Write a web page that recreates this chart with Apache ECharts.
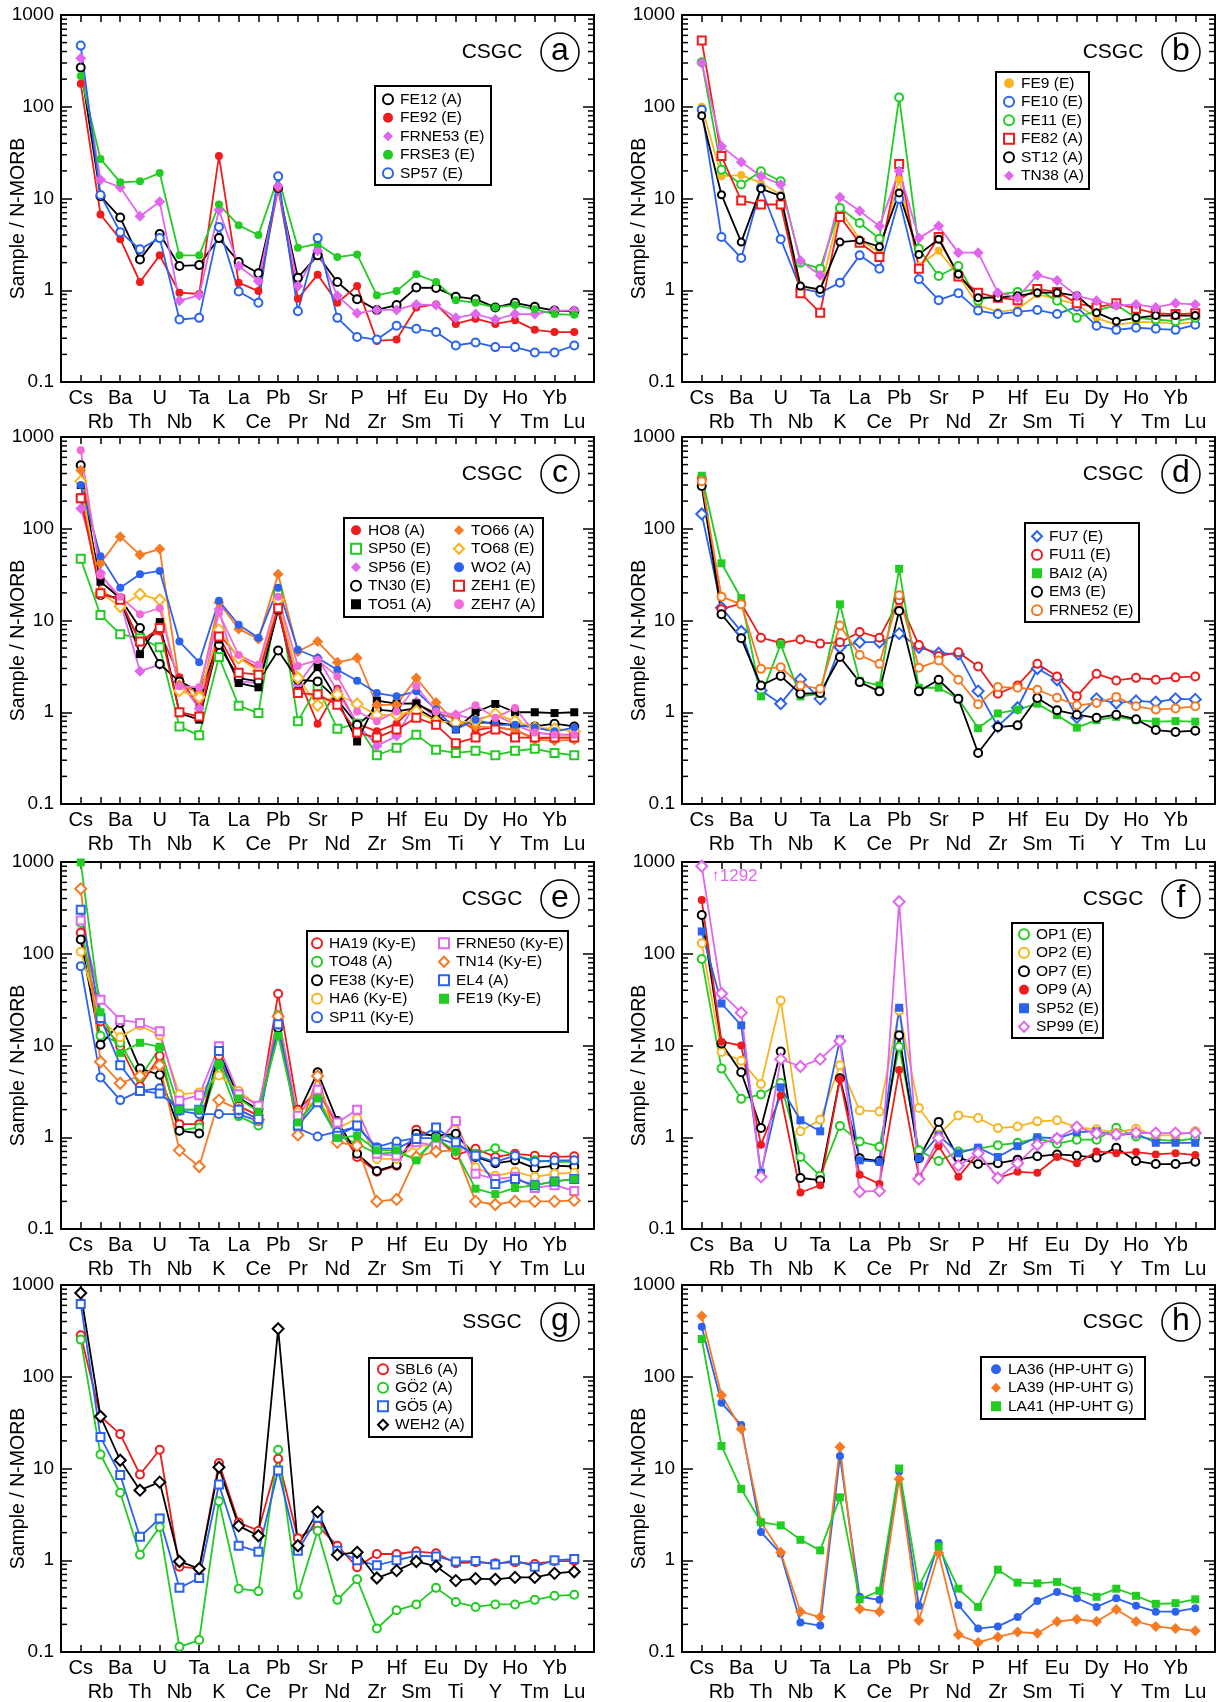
<!DOCTYPE html>
<html>
<head>
<meta charset="utf-8">
<script src="https://cdn.jsdelivr.net/npm/echarts@6/dist/echarts.min.js"></script>
<style>
body { margin: 0; background: #fff; }
#chart { width: 1223px; height: 1702px; }
</style>
</head>
<body>
<div id="chart"></div>
<script>
// element order on the x axis
const elements = ['Cs','Rb','Ba','Th','U','Nb','Ta','K','La','Ce','Pb','Pr','Sr','Nd','P','Zr','Hf','Sm','Eu','Ti','Dy','Y','Ho','Tm','Yb','Lu'];
const minorTicks = [0.2,0.3,0.4,0.5,0.6,0.7,0.8,0.9,2,3,4,5,6,7,8,9,20,30,40,50,60,70,80,90,200,300,400,500,600,700,800,900];

// (a)
const FE12   = [268,10.6,6.2,2.17,4.1,1.84,1.88,3.7,2.03,1.53,13,1.37,2.4,1.23,0.8,0.61,0.69,1.07,1.06,0.85,0.8,0.65,0.73,0.66,0.6,0.59];
const FE92   = [178,6.7,3.6,1.23,2.4,0.94,0.91,29,1.21,0.98,13,0.81,1.48,0.73,1.11,0.28,0.29,0.65,0.7,0.43,0.49,0.43,0.47,0.37,0.35,0.35];
const FRNE53 = [338,16,13.3,6.4,9.2,0.77,0.88,7.5,1.84,1.26,13.6,1.11,2.7,0.87,0.56,0.61,0.61,0.7,0.69,0.5,0.55,0.48,0.55,0.55,0.6,0.6];
const FRSE3  = [217,27,15,15.4,19,2.4,2.4,8.6,5.1,4.0,17,2.9,3.2,2.3,2.46,0.88,0.98,1.49,1.23,0.78,0.73,0.65,0.69,0.62,0.55,0.54];
const SP57   = [464,10.9,4.3,2.8,3.7,0.48,0.5,4.9,0.97,0.73,17.5,0.59,3.7,0.5,0.31,0.29,0.41,0.38,0.35,0.25,0.27,0.24,0.24,0.21,0.21,0.25];
// (b)
const FE9  = [100,17.5,18,14.8,11,1.13,0.98,7.5,3.6,2.6,16,1.84,2.7,1.43,0.69,0.58,0.62,0.9,0.8,0.7,0.5,0.42,0.45,0.45,0.43,0.45];
const FE10 = [93,3.8,2.25,13,3.6,1.05,0.94,1.21,2.4,1.72,9.9,1.32,0.78,0.93,0.6,0.55,0.58,0.61,0.55,0.66,0.41,0.37,0.39,0.38,0.37,0.42];
const FE11 = [306,20.6,14.2,19.8,15.4,2.0,1.72,7.9,5.4,3.65,126,2.84,1.43,1.84,0.77,0.9,0.96,1.03,0.77,0.5,0.6,0.69,0.5,0.48,0.46,0.5];
const FE82 = [526,29,9.5,8.6,8.6,0.93,0.57,6.3,3.3,2.3,23.8,1.72,3.8,1.41,0.94,0.83,0.78,1.03,0.96,0.72,0.65,0.72,0.63,0.56,0.55,0.56];
const ST12 = [80,11,3.35,12.8,10.6,1.11,1.02,3.35,3.5,2.98,11.5,2.46,3.6,1.49,0.83,0.83,0.87,0.94,0.94,0.87,0.57,0.46,0.5,0.53,0.53,0.53];
const TN38 = [300,37,25,17.5,14.2,2.1,1.46,10.3,7.3,5.0,20,3.7,5.0,2.57,2.57,0.94,0.83,1.46,1.28,0.87,0.77,0.68,0.7,0.65,0.72,0.7];
// (c)
const HO8  = [223,20.7,16.4,5.8,7.6,2.4,1.14,7.1,4.0,3.0,13.8,2.42,0.75,1.8,0.75,0.62,0.75,1.23,0.98,0.85,0.64,0.69,0.64,0.52,0.53,0.53];
const SP50 = [47,11.5,7.1,6.4,5.1,0.7,0.56,4.0,1.18,0.98,19.3,0.8,1.92,0.66,0.75,0.34,0.41,0.57,0.39,0.36,0.38,0.34,0.38,0.4,0.36,0.34];
const SP56 = [166,33,16,2.8,3.3,2.17,1.1,13.3,2.17,2.08,14.8,2.0,3.9,1.7,0.75,0.43,0.55,1.3,0.87,0.94,0.83,0.94,0.73,0.6,0.57,0.57];
const TN30 = [493,19,17.5,8.3,3.35,2.17,1.69,5.4,2.36,2.17,4.7,2.26,2.17,1.37,0.73,1.07,1.02,1.11,0.83,0.77,0.77,0.77,0.72,0.7,0.75,0.7];
const TO51 = [300,26.5,17.5,4.3,9.6,0.98,0.83,6.2,2.08,1.87,13,1.69,3.1,1.37,0.48,1.34,1.24,1.25,0.94,0.65,1.0,1.23,1.0,1.0,0.98,1.0];
const TO66 = [434,42,82,52,60,2.0,1.62,15.7,8.1,6.3,32,4.6,5.9,3.5,3.9,1.2,1.21,2.36,1.28,0.77,0.7,0.68,0.65,0.5,0.49,0.5];
const TO68 = [330,20,14.2,19.3,16.8,1.72,1.46,7.9,3.9,2.83,16.8,2.36,1.19,1.56,1.23,0.93,0.94,1.03,0.8,0.77,0.8,0.96,0.8,0.68,0.66,0.62];
const WO2  = [300,50,22.8,32,34.7,5.9,3.5,16.4,9.0,6.5,22.8,4.8,3.9,2.9,2.2,1.62,1.49,1.69,1.07,0.65,0.83,0.73,0.73,0.68,0.62,0.68];
const ZEH1 = [215,19.8,16.8,5.9,8.3,1.0,0.9,6.7,2.7,2.57,13.6,1.62,1.56,1.21,0.6,0.53,0.65,0.87,0.73,0.46,0.53,0.65,0.53,0.53,0.53,0.53];
const ZEH7 = [716,31,18.2,11.7,13.6,1.92,1.87,12,4.2,3.3,18.2,3.2,3.7,2.46,1.02,0.8,1.02,1.92,1.02,0.94,1.19,0.87,1.11,0.6,0.57,0.57];
// (d)
const FU7    = [145,13.8,7.6,1.73,1.24,2.28,1.4,5.1,5.8,5.8,7.2,5.1,4.4,4.3,1.7,0.7,1.12,3.0,2.26,0.88,1.4,1.26,1.33,1.29,1.4,1.38];
const FU11   = [354,13.3,15.3,6.5,5.7,6.2,5.6,5.8,7.5,6.5,16.6,5.4,4.1,4.5,3.15,1.59,1.96,3.37,2.45,1.49,2.62,2.22,2.37,2.26,2.4,2.45];
const BAI2   = [378,42,17.5,1.49,5.5,1.49,1.59,15,2.2,1.96,36.6,1.85,1.85,1.4,0.67,0.97,1.07,1.24,0.93,0.68,0.82,0.89,0.82,0.79,0.8,0.79];
const EM3    = [292,11.7,6.4,1.96,2.48,1.59,1.62,4.0,2.13,1.69,12.7,1.69,2.26,1.4,0.36,0.69,0.72,1.43,1.05,0.94,0.87,0.94,0.84,0.64,0.61,0.63];
const FRNE52 = [330,18.2,15,2.97,3.1,1.96,1.8,8.8,4.2,3.37,18.8,3.05,3.66,2.26,1.22,1.88,1.85,1.76,1.44,1.19,1.26,1.47,1.16,1.07,1.1,1.16];
// (e)
const HA19   = [169,18.3,9.8,3.6,7.7,1.39,1.39,7.7,2.2,1.72,36.6,2.0,3.2,1.34,0.61,0.42,0.49,1.21,1.0,0.64,0.75,0.61,0.66,0.63,0.61,0.62];
const TO48   = [217,12.8,10.7,4.47,9.4,1.18,1.28,6.2,1.7,1.34,21.7,1.5,2.65,1.04,0.85,0.66,0.69,0.58,1.0,1.04,0.66,0.76,0.63,0.56,0.54,0.54];
const FE38   = [143,10.2,17.6,5.6,4.8,1.18,1.1,8.7,2.7,2.0,15.5,1.79,5.1,1.5,0.66,0.43,0.5,1.09,1.04,1.09,0.61,0.52,0.56,0.46,0.49,0.48];
const HA6    = [105,19.4,12.3,16.5,12.9,2.94,3.07,4.7,3.2,2.2,18,1.86,2.6,1.25,1.6,0.58,0.58,0.81,0.81,1.45,0.47,0.38,0.42,0.37,0.4,0.41];
const SP11   = [73,4.47,2.54,3.2,3.42,1.94,1.79,1.79,1.79,1.5,16.9,1.25,1.02,1.15,1.3,0.78,0.9,0.98,0.98,0.85,0.63,0.54,0.63,0.54,0.56,0.56];
const FRNE50 = [230,31.5,19,17.6,14.3,2.5,2.87,9.8,2.95,2.2,20,1.72,3.3,1.45,2.0,0.66,0.63,0.88,0.81,1.5,0.4,0.35,0.37,0.28,0.3,0.26];
const TN14   = [510,6.65,3.88,4.66,6.1,0.72,0.48,2.54,2.0,1.55,20.8,1.06,4.66,0.88,0.81,0.2,0.21,0.61,0.7,0.72,0.2,0.185,0.2,0.2,0.2,0.205];
const EL4    = [302,20,6.1,3.2,3.0,2.0,2.0,8.7,2.0,1.58,17,1.34,2.4,1.04,1.34,0.75,0.75,0.96,1.28,0.88,0.63,0.31,0.35,0.3,0.33,0.35];
const FE19   = [990,23,8.3,10.7,9.7,2.0,2.0,6.2,2.65,1.9,12.8,1.45,2.65,0.98,1.04,0.72,0.72,0.56,0.98,0.7,0.275,0.24,0.28,0.3,0.33,0.35];
// (f)
const OP1  = [87.5,5.6,2.62,2.92,3.9,0.61,0.38,1.33,0.9,0.79,9.7,0.72,0.55,0.7,0.75,0.82,0.87,0.97,0.85,0.94,0.94,1.27,1.02,0.94,0.91,0.97];
const OP2  = [130,8.5,6.8,3.8,31,1.16,1.55,6.1,1.96,1.91,24,2.08,1.07,1.73,1.62,1.26,1.31,1.49,1.53,1.29,1.22,1.12,1.24,1.05,1.05,1.16];
const OP7  = [264,10.5,5.1,1.26,8.6,0.36,0.34,4.4,0.59,0.55,12.9,0.59,1.47,0.6,0.51,0.52,0.57,0.62,0.65,0.63,0.6,0.77,0.55,0.51,0.51,0.54];
const OP9  = [385,11,10,0.83,2.85,0.25,0.3,4.3,0.39,0.31,5.4,0.37,0.8,0.37,0.67,0.36,0.42,0.41,0.61,0.52,0.7,0.67,0.69,0.65,0.67,0.64];
const SP52 = [175,28.7,16.6,0.41,3.5,1.53,1.16,11.7,0.56,0.54,25.8,0.59,1.05,0.67,0.77,0.61,0.8,1.0,0.97,1.14,1.16,1.05,1.1,0.87,0.87,0.87];
const SP99 = [900,36.9,22.8,0.37,7.1,5.9,7.1,11.2,0.255,0.26,369,0.35,0.98,0.49,0.67,0.36,0.52,0.83,0.97,1.29,1.1,1.07,1.12,1.11,1.11,1.11];
// (g)
const SBL6 = [283,36.9,23.7,8.6,16,0.85,0.81,11.5,2.58,2.1,12.8,1.74,2.37,1.44,0.84,1.17,1.17,1.25,1.19,0.93,0.95,0.93,0.95,0.91,0.98,0.98];
const GO2  = [254,14.2,5.45,1.15,2.3,0.114,0.135,4.4,0.49,0.46,16,0.42,2.1,0.37,0.62,0.18,0.285,0.33,0.5,0.35,0.31,0.33,0.33,0.37,0.41,0.42];
const GO5  = [622,22,8.5,1.8,2.85,0.5,0.64,6.7,1.44,1.24,9.5,1.27,2.9,1.27,1.0,0.88,1.0,1.12,1.1,0.97,0.98,0.9,1.0,0.85,1.0,1.03];
const WEH2 = [819,36.9,12.3,5.8,7.1,0.97,0.81,10.3,2.37,1.85,334,1.44,3.37,1.15,1.22,0.64,0.77,0.97,0.86,0.6,0.63,0.62,0.65,0.65,0.72,0.75];
// (h)
const LA36 = [351,52,29.7,2.03,1.18,0.21,0.194,13.7,0.4,0.37,9.3,0.32,1.54,0.325,0.18,0.19,0.24,0.36,0.45,0.385,0.31,0.385,0.32,0.275,0.275,0.3];
const LA39 = [458,63,27,2.6,1.22,0.275,0.24,17.2,0.295,0.275,7.7,0.22,1.2,0.154,0.127,0.146,0.165,0.16,0.215,0.227,0.215,0.29,0.215,0.19,0.18,0.17];
const LA41 = [258,17.6,6.0,2.6,2.4,1.67,1.28,4.85,0.375,0.465,10,0.52,1.42,0.49,0.31,0.79,0.57,0.56,0.58,0.465,0.4,0.49,0.41,0.335,0.34,0.375];

const BLACK = '#000000', RED = '#ee1d1d', VIOLET = '#e066ee', PINK = '#f26bd6',
      GREEN = '#22cc22', BLUE = '#2b63ee', GOLD = '#f7b521', ORANGE = '#f57a23';

// [name, values, symbol, filled, colour]
const panels = [
  { tag: 'a', group: 'CSGC', samples: [
    ['FE12 (A)', FE12, 'circle', false, BLACK],
    ['FE92 (E)', FE92, 'circle', true, RED],
    ['FRNE53 (E)', FRNE53, 'diamond', true, VIOLET],
    ['FRSE3 (E)', FRSE3, 'circle', true, GREEN],
    ['SP57 (E)', SP57, 'circle', false, BLUE]] },
  { tag: 'b', group: 'CSGC', samples: [
    ['FE9 (E)', FE9, 'circle', true, GOLD],
    ['FE10 (E)', FE10, 'circle', false, BLUE],
    ['FE11 (E)', FE11, 'circle', false, GREEN],
    ['FE82 (A)', FE82, 'rect', false, RED],
    ['ST12 (A)', ST12, 'circle', false, BLACK],
    ['TN38 (A)', TN38, 'diamond', true, VIOLET]] },
  { tag: 'c', group: 'CSGC', samples: [
    ['HO8 (A)', HO8, 'circle', true, RED],
    ['SP50 (E)', SP50, 'rect', false, GREEN],
    ['SP56 (E)', SP56, 'diamond', true, VIOLET],
    ['TN30 (E)', TN30, 'circle', false, BLACK],
    ['TO51 (A)', TO51, 'rect', true, BLACK],
    ['TO66 (A)', TO66, 'diamond', true, ORANGE],
    ['TO68 (E)', TO68, 'diamond', false, GOLD],
    ['WO2 (A)', WO2, 'circle', true, BLUE],
    ['ZEH1 (E)', ZEH1, 'rect', false, RED],
    ['ZEH7 (A)', ZEH7, 'circle', true, PINK]] },
  { tag: 'd', group: 'CSGC', samples: [
    ['FU7 (E)', FU7, 'diamond', false, BLUE],
    ['FU11 (E)', FU11, 'circle', false, RED],
    ['BAI2 (A)', BAI2, 'rect', true, GREEN],
    ['EM3 (E)', EM3, 'circle', false, BLACK],
    ['FRNE52 (E)', FRNE52, 'circle', false, ORANGE]] },
  { tag: 'e', group: 'CSGC', samples: [
    ['HA19 (Ky-E)', HA19, 'circle', false, RED],
    ['TO48 (A)', TO48, 'circle', false, GREEN],
    ['FE38 (Ky-E)', FE38, 'circle', false, BLACK],
    ['HA6 (Ky-E)', HA6, 'circle', false, GOLD],
    ['SP11 (Ky-E)', SP11, 'circle', false, BLUE],
    ['FRNE50 (Ky-E)', FRNE50, 'rect', false, VIOLET],
    ['TN14 (Ky-E)', TN14, 'diamond', false, ORANGE],
    ['EL4 (A)', EL4, 'rect', false, BLUE],
    ['FE19 (Ky-E)', FE19, 'rect', true, GREEN]] },
  { tag: 'f', group: 'CSGC', samples: [
    ['OP1 (E)', OP1, 'circle', false, GREEN],
    ['OP2 (E)', OP2, 'circle', false, GOLD],
    ['OP7 (E)', OP7, 'circle', false, BLACK],
    ['OP9 (A)', OP9, 'circle', true, RED],
    ['SP52 (E)', SP52, 'rect', true, BLUE],
    ['SP99 (E)', SP99, 'diamond', false, VIOLET]] },
  { tag: 'g', group: 'SSGC', samples: [
    ['SBL6 (A)', SBL6, 'circle', false, RED],
    ['GÖ2 (A)', GO2, 'circle', false, GREEN],
    ['GÖ5 (A)', GO5, 'rect', false, BLUE],
    ['WEH2 (A)', WEH2, 'diamond', false, BLACK]] },
  { tag: 'h', group: 'CSGC', samples: [
    ['LA36 (HP-UHT G)', LA36, 'circle', true, BLUE],
    ['LA39 (HP-UHT G)', LA39, 'diamond', true, ORANGE],
    ['LA41 (HP-UHT G)', LA41, 'rect', true, GREEN]] }
];

// legend boxes [x, y, w, h], column lefts, first row top, items per column
const legendLayout = [
  { box: [375, 86, 116, 99], cols: [382], top: 90, per: 5 },
  { box: [996, 72, 93, 117], cols: [1003], top: 74, per: 6 },
  { box: [344, 518, 199, 99], cols: [350, 453], top: 521, per: 5 },
  { box: [1025, 523, 114, 99], cols: [1031], top: 527, per: 5 },
  { box: [307, 931, 261, 101], cols: [311, 438], top: 934, per: 5 },
  { box: [1012, 923, 91, 115], cols: [1018], top: 925, per: 6 },
  { box: [369, 1358, 103, 79], cols: [377], top: 1360, per: 4 },
  { box: [981, 1357, 164, 62], cols: [991], top: 1360, per: 3 }
];

const FONT = '"Liberation Sans", Arial, sans-serif';
const lefts = [61, 682], tops = [15, 437, 862, 1285], W = 533, H = 367;

const grid = [], xAxis = [], yAxis = [], series = [], legend = [], graphic = [];

panels.forEach((p, k) => {
  const left = lefts[k % 2], top = tops[Math.floor(k / 2)];
  grid.push({ left: left, top: top, width: W, height: H, containLabel: false, outerBoundsMode: 'none' });

  const axLine = { show: true, onZero: false, lineStyle: { color: '#000', width: 2 } };
  const xBase = {
    type: 'value', gridIndex: k, min: -1, max: 26, interval: 1,
    axisLine: axLine, splitLine: { show: false },
    axisTick: { inside: true, length: 7, lineStyle: { color: '#000', width: 1.5 } }
  };
  xAxis.push(Object.assign({}, xBase, {
    position: 'bottom',
    axisLabel: {
      color: '#000', fontSize: 20, fontFamily: FONT, lineHeight: 24, margin: 4,
      formatter: v => {
        const i = Math.round(v);
        if (i < 0 || i >= elements.length) return '';
        return i % 2 === 0 ? elements[i] : '\n' + elements[i];
      }
    }
  }));
  xAxis.push(Object.assign({}, xBase, { position: 'top', axisLabel: { show: false } }));

  const yBase = {
    type: 'log', logBase: 10, gridIndex: k, min: 0.1, max: 1000,
    axisLine: axLine, splitLine: { show: false },
    axisTick: { inside: true, length: 11, lineStyle: { color: '#000', width: 1.5 } }
  };
  yAxis.push(Object.assign({}, yBase, {
    position: 'left',
    name: 'Sample / N-MORB', nameLocation: 'middle', nameGap: 32, nameMoveOverlap: false,
    nameTextStyle: { color: '#000', fontSize: 19.5, fontFamily: FONT, padding: [0, 40, 0, 0] },
    axisLabel: { color: '#000', fontSize: 19, fontFamily: FONT, margin: 7,
      formatter: v => (v < 1 ? v.toFixed(1) : String(Math.round(v))) }
  }));
  yAxis.push(Object.assign({}, yBase, { position: 'right', axisLabel: { show: false } }));

  // minor log ticks on both sides
  series.push({
    type: 'custom', xAxisIndex: 2 * k, yAxisIndex: 2 * k, silent: true, clip: false, z: 3,
    data: minorTicks.map(v => [0, v]),
    renderItem: (params, api) => {
      const y = api.coord([0, api.value(1)])[1];
      const cs = params.coordSys;
      const st = { stroke: '#000', lineWidth: 1.5 };
      return { type: 'group', children: [
        { type: 'line', shape: { x1: cs.x, y1: y, x2: cs.x + 6, y2: y }, style: st },
        { type: 'line', shape: { x1: cs.x + cs.width, y1: y, x2: cs.x + cs.width - 6, y2: y }, style: st }
      ] };
    }
  });

  p.samples.forEach(s => {
    const [name, vals, sym, filled, color] = s;
    const size = sym === 'diamond' ? 11 : (name === 'ST12 (A)' ? 7 : 8);
    const data = vals.map((v, i) => [i, v]);
    if (name === 'SP99 (E)') {
      data[0] = { value: data[0], label: {
        show: true, position: 'right', distance: 3, offset: [0, 10],
        formatter: '↑1292', color: VIOLET, fontSize: 17, fontFamily: FONT } };
    }
    series.push({
      type: 'line', name: name, xAxisIndex: 2 * k, yAxisIndex: 2 * k,
      data: data,
      symbol: filled ? sym : 'empty' + sym.charAt(0).toUpperCase() + sym.slice(1),
      symbolSize: size, showAllSymbol: true,
      lineStyle: { color: color, width: 1.8 },
      itemStyle: { color: color, borderColor: color, borderWidth: filled ? 0 : 1.8 },
      emphasis: { disabled: true }
    });
  });

  // legend box and columns
  const L = legendLayout[k];
  graphic.push({ type: 'rect', z: 5, shape: { x: L.box[0], y: L.box[1], width: L.box[2], height: L.box[3] },
    style: { fill: '#fff', stroke: '#000', lineWidth: 2 } });
  L.cols.forEach((cx, c) => {
    const items = p.samples.slice(c * L.per, (c + 1) * L.per).map(s => ({
      name: s[0], icon: s[2],
      itemStyle: s[3] ? { color: s[4], borderWidth: 0 } : { color: '#fff', borderColor: s[4], borderWidth: 2 }
    }));
    legend.push({
      orient: 'vertical', left: cx, top: L.top, padding: 0, itemGap: 0,
      itemWidth: 10, itemHeight: 10, selectedMode: false, z: 10,
      textStyle: { color: '#000', fontSize: 15.5, lineHeight: 18.5, fontFamily: FONT, padding: [0, 0, 0, 2] },
      data: items
    });
  });

  // group label and panel letter
  const cy = top + 37;
  graphic.push({ type: 'text', z: 5, style: { text: p.group, x: left + W - 102, y: cy,
    fill: '#000', font: '21px ' + FONT, align: 'center', verticalAlign: 'middle' } });
  graphic.push({ type: 'circle', z: 5, shape: { cx: left + W - 34, cy: cy, r: 19 },
    style: { fill: 'none', stroke: '#000', lineWidth: 1.5 } });
  graphic.push({ type: 'text', z: 5, style: { text: p.tag, x: left + W - 34, y: cy - 1,
    fill: '#000', font: '32px ' + FONT, align: 'center', verticalAlign: 'middle' } });
});

const chart = echarts.init(document.getElementById('chart'));
chart.setOption({
  animation: false,
  backgroundColor: '#fff',
  grid: grid,
  xAxis: xAxis,
  yAxis: yAxis,
  legend: legend,
  graphic: graphic,
  series: series
});
</script>
</body>
</html>
